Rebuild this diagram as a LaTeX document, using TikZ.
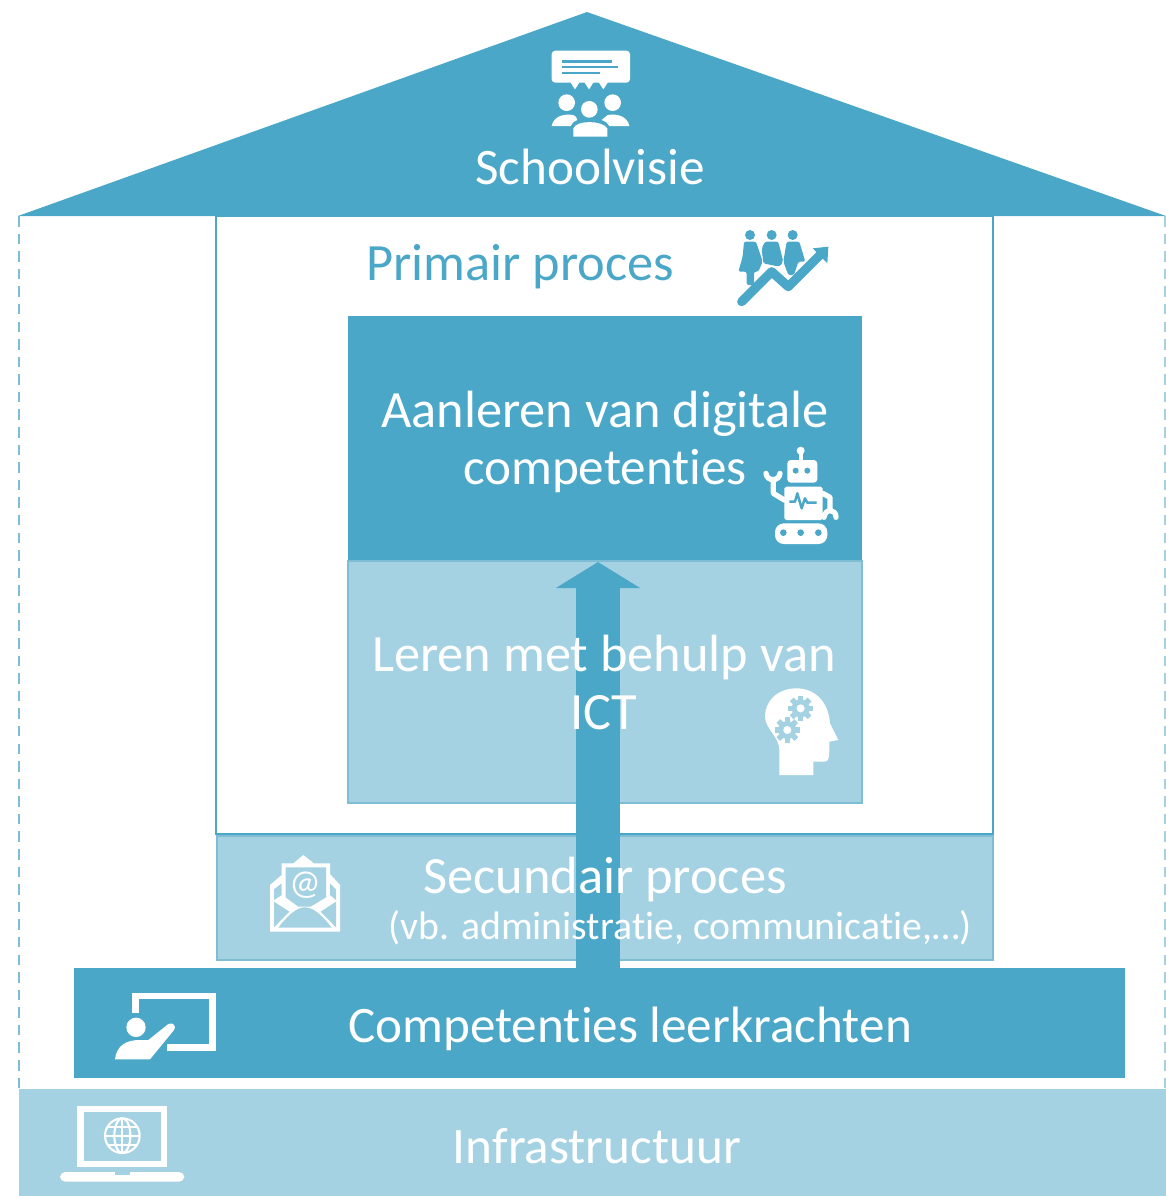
\documentclass[tikz,border=0pt]{standalone}
\usepackage{fontspec}
\setmainfont[Ligatures=NoCommon]{Carlito}
\usetikzlibrary{arrows.meta}
\definecolor{housedark}{HTML}{4BA7C8}
\definecolor{houselight}{HTML}{A5D2E3}
\definecolor{houseedge}{HTML}{7FBDD5}
\tikzset{
    bigtext/.style={text=white, font=\fontsize{14.9}{17}\selectfont, inner sep=0pt},
    midtext/.style={text=white, font=\fontsize{14.55}{17}\selectfont, inner sep=0pt},
    smalltext/.style={text=white, font=\fontsize{11.3}{13}\selectfont, inner sep=0pt},
    icon/.style={fill=white, draw=none},
    iconline/.style={draw=white, line cap=round, line join=round}
}
\begin{document}
\begin{tikzpicture}[x=.01cm, y=-.01cm]
    \useasboundingbox (0,0) rectangle (1166,1196);

    \draw[houseedge, densely dashed, thin] (19,216) -- (19,1089);
    \draw[houselight, densely dashed, thin] (1165,216) -- (1165,1089);

    \fill[housedark] (587,12) -- (18,216) -- (1166,216) -- cycle;
    \draw[housedark, line width=.6pt] (216,216) rectangle (993,834);
    \fill[housedark] (348,316) rectangle (862,561);
    \filldraw[fill=houselight, draw=houseedge, line width=.5pt] (348,561) rectangle (862,803);
    \filldraw[fill=houselight, draw=houseedge, line width=.4pt] (217,836) rectangle (993,960);
    \fill[housedark] (74,968) rectangle (1125,1078);
    \fill[houselight] (19,1089) rectangle (1166,1196);

    \coordinate (arrowfoot) at (598,968);
    \coordinate (arrowtip) at (598,562);
    \draw[housedark, line width=12.5pt, -{Triangle[length=2.6mm, width=8.3mm]}] (arrowfoot) -- (arrowtip);

    \node[midtext] (school) at (590,167) {Schoolvisie};
    \node[bigtext, text=housedark] (primair) at (520,267) {Primair proces};
    \node[bigtext] (aanleren) at (605,414) {Aanleren van digitale};
    \node[midtext] (comp) at (605,471) {competenties};
    \node[bigtext] (leren) at (604,658) {Leren met behulp van};
    \node[bigtext] (ict) at (604,713) {ICT};
    \node[bigtext] (secundair) at (605,880) {Secundair proces};
    \node[smalltext] (vb) at (680,928) {(vb. administratie, communicatie,…)};
    \node[midtext] (leerkracht) at (630,1029) {Competenties leerkrachten};
    \node[midtext] (infra) at (597,1146) {Infrastructuur};

    % schoolvisie
    \begin{scope}[shift={(520,30)}, scale=1/3]
    \fill[icon, rounded corners=1pt] (95,62) rectangle (330,158);
    \fill[icon] (150,155) -- (165,178) -- (180,155) -- cycle;
    \fill[icon] (192,155) -- (207,178) -- (222,155) -- cycle;
    \fill[icon] (235,155) -- (250,178) -- (265,155) -- cycle;
    \fill[housedark] (125,91) rectangle (275,98);
    \fill[housedark] (125,108) rectangle (295,115);
    \fill[housedark] (125,125) rectangle (240,132);
    \fill[icon] (140,218) circle (25);
    \fill[icon] (278,218) circle (25);
    \fill[icon] (208,238) circle (25);
    \fill[icon] (95,288) .. controls (100,260) and (130,250) .. (160,255) .. controls (170,260) and (170,265) .. (172,270) .. controls (160,275) and (155,280) .. (152,288) -- cycle;
    \fill[icon] (328,288) .. controls (323,260) and (293,250) .. (263,255) .. controls (253,260) and (253,265) .. (245,270) .. controls (258,275) and (265,280) .. (268,288) -- cycle;
    \fill[icon] (160,320) -- (160,295) .. controls (170,270) and (245,270) .. (262,295) -- (262,320) -- cycle;
    \end{scope}

    % primair proces
    \begin{scope}[shift={(720,220)}, scale=1/3]
    \fill[housedark] (90,45) circle (15);
    \fill[housedark] (155,45) circle (15);
    \fill[housedark] (218,45) circle (15);
    \fill[housedark, rounded corners=.6pt] (72,65) -- (108,65) -- (128,125) -- (115,155) -- (102,155) -- (102,195) -- (80,195) -- (80,155) -- (55,155) -- (68,110) -- cycle;
    \fill[housedark, rounded corners=.6pt] (135,65) -- (175,65) -- (190,125) -- (178,140) -- (130,130) -- (125,85) -- cycle;
    \fill[housedark, rounded corners=.6pt] (200,65) -- (238,65) -- (256,125) -- (235,125) -- (222,165) -- (205,165) -- (190,125) -- cycle;
    \draw[housedark, line width=2.6pt, line join=round, line cap=round] (65,245) -- (155,155) -- (205,200) -- (300,105);
    \fill[housedark] (325,80) -- (322,130) -- (278,85) -- cycle;
    \end{scope}

    % robot
    \begin{scope}[shift={(750,440)}, scale=1/3]
    \fill[icon] (152,32) circle (12);
    \draw[iconline, line width=1.2pt] (152,35) -- (152,65);
    \fill[icon, rounded corners=1pt] (112,60) rectangle (202,128);
    \fill[housedark] (137,92) circle (9);
    \fill[housedark] (172,92) circle (9);
    \fill[icon, rounded corners=.5pt] (103,140) rectangle (218,240);
    \draw[housedark, line width=.7pt, line join=round] (118,185) -- (135,185) -- (142,160) -- (155,205) -- (165,175) -- (172,188) -- (200,188);
    \fill[icon, rounded corners=2.5pt] (75,250) rectangle (232,312);
    \fill[housedark] (100,278) circle (10);
    \fill[housedark] (152,278) circle (10);
    \fill[housedark] (205,278) circle (10);
    \draw[iconline, line width=1.5pt] (103,180) -- (70,160) -- (70,125);
    \draw[iconline, line width=1.5pt] (48,100) .. controls (50,125) and (88,125) .. (90,100);
    \draw[iconline, line width=1.5pt] (218,160) -- (240,172) -- (240,210);
    \draw[iconline, line width=1.5pt] (222,232) .. controls (225,205) and (258,205) .. (258,232);
    \end{scope}

    % leren met ict
    \begin{scope}[shift={(750,680)}, scale=1/3]
    \fill[icon] (88,285) -- (190,285) -- (190,245) -- (225,245) .. controls (238,245) and (238,225) .. (238,185) -- (265,180) -- (240,130) .. controls (235,60) and (190,25) .. (140,25) .. controls (80,25) and (45,65) .. (45,110) .. controls (45,145) and (88,170) .. (88,210) -- cycle;
    \foreach \a in {0,45,...,315} {
        \fill[houselight] (152,85) ++(\a:20) ++(\a+90:8) -- ++(\a:18) -- ++(\a-90:16) -- ++(\a:-18) -- cycle;
        \fill[houselight] (112,150) ++(\a:20) ++(\a+90:8) -- ++(\a:18) -- ++(\a-90:16) -- ++(\a:-18) -- cycle;
    }
    \fill[houselight] (152,85) circle (27);
    \fill[houselight] (112,150) circle (27);
    \fill[icon] (152,85) circle (12);
    \fill[icon] (112,150) circle (12);
    \end{scope}

    % secundair proces
    \begin{scope}[shift={(250,850)}, scale=1/3]
    \fill[icon] (60,245) -- (60,105) -- (95,75) -- (95,40) -- (130,40) -- (160,15) -- (192,40) -- (240,40) -- (240,72) -- (270,105) -- (270,245) -- cycle;
    \fill[houselight] (107,52) -- (228,52) -- (228,142) -- (182,170) -- (145,170) -- (107,142) -- cycle;
    \fill[houselight] (72,118) -- (95,100) -- (95,135) -- (72,150) -- cycle;
    \fill[houselight] (258,118) -- (240,100) -- (240,135) -- (258,150) -- cycle;
    \fill[houselight] (72,155) -- (118,185) -- (72,232) -- cycle;
    \fill[houselight] (258,155) -- (212,185) -- (258,232) -- cycle;
    \fill[houselight] (85,233) .. controls (125,180) and (150,172) .. (165,172) .. controls (180,172) and (205,180) .. (245,233) -- cycle;
    \node[inner sep=0pt, text=white, font=\fontsize{10}{12}\selectfont] (mail) at (165,105) {@};
    \end{scope}

    % leerkrachten
    \begin{scope}[shift={(0,970)}, scale=1/3]
    \draw[iconline, line width=1.9pt, line cap=butt, line join=miter] (407,128) -- (407,78) -- (638,78) -- (638,232) -- (500,232);
    \fill[icon] (408,172) circle (29);
    \fill[icon] (345,268) .. controls (350,225) and (380,210) .. (420,210) -- (445,210) -- (505,162) .. controls (520,155) and (530,170) .. (522,180) -- (450,268) -- cycle;
    \end{scope}

    % infrastructuur
    \begin{scope}[shift={(0,970)}, scale=1/3]
    \draw[white, line width=1.9pt] (242,417) rectangle (492,582);
    \fill[icon, rounded corners=1.5pt] (180,606) rectangle (553,635);
    \fill[houselight] (345,606) rectangle (390,614);
    \draw[white, line width=.6pt] (367,497) circle (52);
    \draw[white, line width=.6pt] (367,497) ellipse (24 and 52);
    \draw[white, line width=.6pt] (367,445) -- (367,549);
    \draw[white, line width=.6pt] (315,497) -- (419,497);
    \draw[white, line width=.6pt] (324,470) -- (410,470);
    \draw[white, line width=.6pt] (324,524) -- (410,524);
    \end{scope}
\end{tikzpicture}
\end{document}
